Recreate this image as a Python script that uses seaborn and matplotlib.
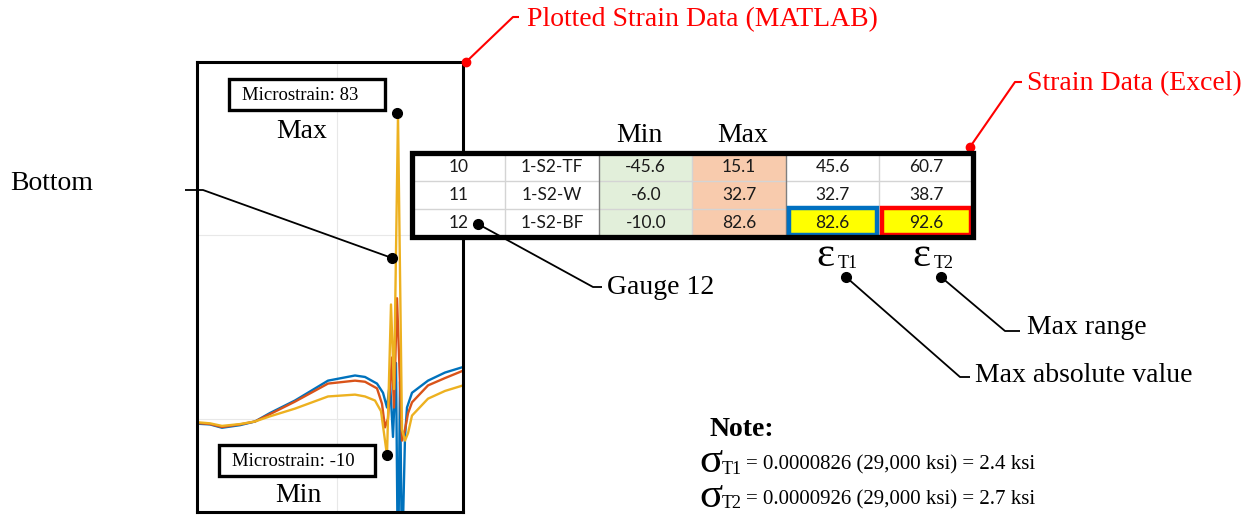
import pandas as pd
import seaborn as sns
import matplotlib.pyplot as plt
from matplotlib.patches import Rectangle

# strain traces (sample index, microstrain)
t_g10 = [0, 13, 25, 43, 58, 73, 98, 131, 158, 168, 180, 186, 190, 193, 196, 199, 201, 203, 205, 208, 210, 215, 231, 248, 266]
eps_g10 = [-1.4, -1.6, -2.5, -1.8, -0.8, 1.5, 4.9, 10.3, 11.7, 11.3, 9.5, 7, 3, 10, -5, 15.1, -45.6, 10, -40, -5, 3, 7, 10.3, 12.5, 14]
t_g11 = [0, 13, 25, 43, 58, 73, 98, 131, 158, 168, 180, 185, 188, 191, 195, 197, 200, 205, 208, 211, 215, 231, 248, 266]
eps_g11 = [-1.2, -1.5, -2.3, -1.6, -0.8, 1.2, 4.6, 9.5, 10.3, 10, 8.2, 4, -2.4, 0, 16.6, 3, 32.7, -6.0, -3, 1.4, 4.4, 9, 11, 13]
t_g12 = [0, 13, 25, 43, 58, 73, 98, 131, 158, 168, 178, 184, 190, 194, 197, 201, 205, 208, 211, 215, 231, 248, 266]
eps_g12 = [-1.0, -1.3, -2, -1.5, -0.8, 0.6, 2.7, 6, 6.5, 6, 4.9, 2, -10, 31, 8, 82.6, -3, -6, -4, 0.8, 5.4, 7.5, 9]

# excel summary table
gauges = [10, 11, 12]
gauge_names = ['1-S2-TF', '1-S2-W', '1-S2-BF']
min_strain = [-45.6, -6.0, -10.0]
max_strain = [15.1, 32.7, 82.6]
max_abs = [45.6, 32.7, 82.6]
max_range = [60.7, 38.7, 92.6]
E_ksi = 29000

line_colors = ['#0072BD', '#D95319', '#EDB120']
serif = ['Liberation Serif', 'DejaVu Serif']

sns.set_theme(style='white')
plt.rcParams['font.family'] = serif
plt.rcParams['text.color'] = 'black'

W, H = 1249, 518
fig = plt.figure(figsize=(W / 100, H / 100), dpi=100)

# ---- MATLAB strain plot ----
ax = fig.add_axes([197 / W, 1 - 512 / H, 266 / W, 450 / H])
df = pd.concat([
    pd.DataFrame({'t': t_g10, 'strain': eps_g10, 'gauge': 'G10'}),
    pd.DataFrame({'t': t_g11, 'strain': eps_g11, 'gauge': 'G11'}),
    pd.DataFrame({'t': t_g12, 'strain': eps_g12, 'gauge': 'G12'}),
])
sns.lineplot(data=df, x='t', y='strain', hue='gauge', hue_order=['G10', 'G11', 'G12'],
             palette=line_colors, estimator=None, sort=False, legend=False,
             linewidth=1.7, ax=ax)
ax.set_xlim(0, 266)
ax.set_ylim(-25.4, 96.9)
ax.set_xticks([140])
ax.set_yticks([0, 50])
ax.grid(True, color='#e8e8e8', lw=0.8)
ax.tick_params(length=0, labelbottom=False, labelleft=False)
ax.set_xlabel('')
ax.set_ylabel('')
for s in ax.spines.values():
    s.set_color('black')
    s.set_linewidth(2.2)

# ---- overlay in pixel coordinates for callouts and table ----
ov = fig.add_axes([0, 0, 1, 1])
ov.set_xlim(0, W)
ov.set_ylim(H, 0)
ov.axis('off')
ov.patch.set_alpha(0)

def dot(x, y, c='black', s=7):
    ov.plot(x, y, 'o', color=c, ms=s, zorder=6)

def leader(xs, ys, c='black', lw=1.3):
    ov.plot(xs, ys, color=c, lw=lw, zorder=5, solid_capstyle='butt')

# microstrain boxes
ov.add_patch(Rectangle((229, 79), 156, 31, fc='white', ec='black', lw=2.4, zorder=4))
ov.text(300, 96, f'Microstrain: {round(max(eps_g12))}', fontsize=13.5, ha='center', va='center', zorder=5)
ov.text(302, 132, 'Max', fontsize=20, ha='center', va='center')
dot(397, 113)
ov.add_patch(Rectangle((219, 445), 156, 31, fc='white', ec='black', lw=2.4, zorder=4))
ov.text(293, 462, f'Microstrain: {round(min(eps_g12))}', fontsize=13.5, ha='center', va='center', zorder=5)
ov.text(298, 496, 'Min', fontsize=20, ha='center', va='center')
dot(387, 455)

# Bottom callout
ov.text(10, 183, 'Bottom', fontsize=20, ha='left', va='center')
leader([185, 203, 392], [190, 190, 258])
dot(392, 258)

# red callouts
leader([466, 513, 519], [62, 17, 17], c='red', lw=1.5)
dot(466, 62, c='red', s=6)
ov.text(527, 20, 'Plotted Strain Data (MATLAB)', color='red', fontsize=20, ha='left', va='center')
leader([970, 1015, 1022], [147, 82, 82], c='red', lw=1.5)
dot(970, 147, c='red', s=6)
ov.text(1027, 84, 'Strain Data (Excel)', color='red', fontsize=20, ha='left', va='center')

# table
x0, y0, cw, rh = 412, 153, 93.5, 28
fills = [None, None, '#E2EFDA', '#F8CBAD', None, None]
cols = [[str(g) for g in gauges], gauge_names,
        [f'{v:.1f}' for v in min_strain], [f'{v:.1f}' for v in max_strain],
        [f'{v:.1f}' for v in max_abs], [f'{v:.1f}' for v in max_range]]
ov.add_patch(Rectangle((x0, y0), cw * 6, rh * 3, fc='white', ec='none', zorder=3))
for j, fc in enumerate(fills):
    if fc:
        ov.add_patch(Rectangle((x0 + j * cw, y0), cw, rh * 3, fc=fc, ec='none', zorder=3))
for i in range(1, 3):
    leader([x0, x0 + 6 * cw], [y0 + i * rh] * 2, c='#d4d4d4', lw=1)
for j in range(1, 6):
    c = '#7f7f7f' if j in (2, 4) else '#d4d4d4'
    leader([x0 + j * cw] * 2, [y0, y0 + 3 * rh], c=c, lw=1)
# highlighted cells
ov.add_patch(Rectangle((x0 + 4 * cw + 3, y0 + 2 * rh - 1), cw - 5, rh - 1, fc='yellow', ec='#0070C0', lw=3.2, zorder=5))
ov.add_patch(Rectangle((x0 + 5 * cw + 3, y0 + 2 * rh - 1), cw - 5, rh - 1, fc='yellow', ec='red', lw=3.2, zorder=5))
for j, col in enumerate(cols):
    for i, txt in enumerate(col):
        ov.text(x0 + (j + 0.5) * cw, y0 + (i + 0.5) * rh, txt, fontsize=12.5,
                family=['Lato', 'DejaVu Sans'], color='#1a1a1a',
                ha='center', va='center', zorder=7)
ov.add_patch(Rectangle((x0, y0), cw * 6, rh * 3, fc='none', ec='black', lw=3.8, zorder=8))
ov.text(x0 + 2.5 * cw - 6, 135, 'Min', fontsize=20, ha='center', va='center')
ov.text(x0 + 3.5 * cw + 3, 135, 'Max', fontsize=20, ha='center', va='center')

# gauge 12 callout
dot(478, 224)
leader([478, 593, 602], [224, 287, 287])
ov.text(607, 287, 'Gauge 12', fontsize=20, ha='left', va='center')

# epsilon labels
for xe, sub in [(816, 'T1'), (912, 'T2')]:
    ov.text(xe, 256, '\u03b5', fontsize=31, ha='left', va='center')
    ov.text(xe + 22, 264, sub, fontsize=13, ha='left', va='center')
dot(846, 277)
leader([846, 960, 970], [277, 377, 377])
ov.text(975, 376, 'Max absolute value', fontsize=20, ha='left', va='center')
dot(941, 277)
leader([941, 1005, 1020], [277, 331, 331])
ov.text(1027, 327, 'Max range', fontsize=20, ha='left', va='center')

# note
ov.text(710, 429, 'Note:', fontsize=20, fontweight='bold', ha='left', va='center')
for yy, sub, v in [(465, 'T1', max_abs[2]), (500, 'T2', max_range[2])]:
    ov.text(699, yy - 3, '\u03c3', fontsize=31, ha='left', va='center')
    ov.text(722, yy + 4, sub, fontsize=13, ha='left', va='center')
    ov.text(746, yy, f'= {v * 1e-6:.7f} ({E_ksi:,} ksi) = {v * 1e-6 * E_ksi:.1f} ksi',
            fontsize=15, ha='left', va='center')

fig.savefig('out.png', dpi=100, facecolor='white')
